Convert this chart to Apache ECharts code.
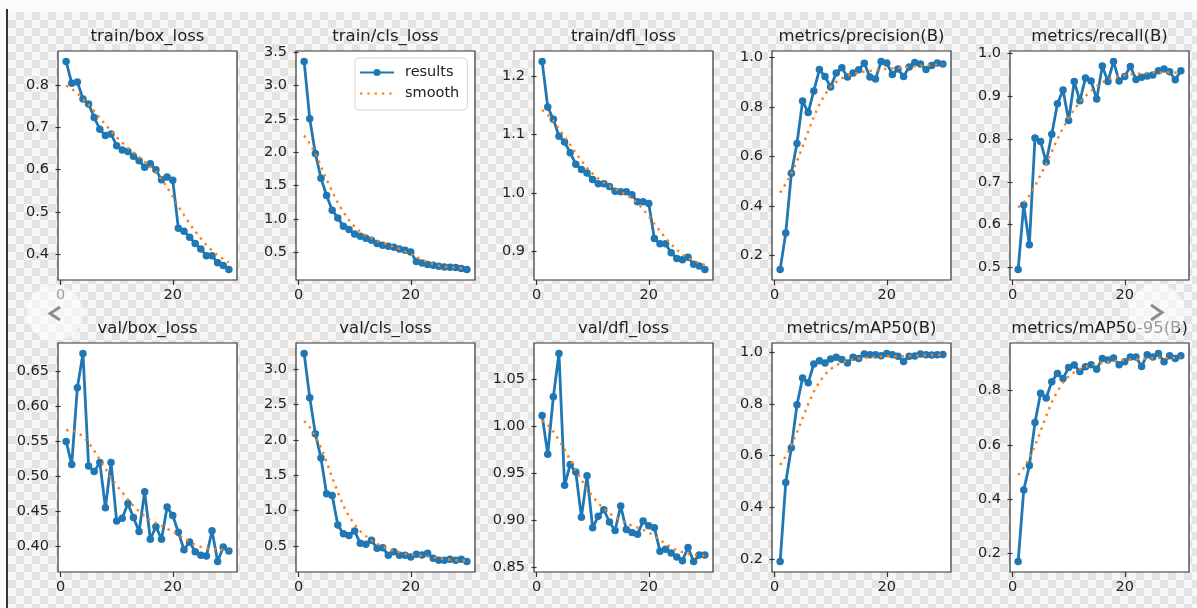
<!DOCTYPE html>
<html>
<head>
<meta charset="utf-8">
<script src="https://cdn.jsdelivr.net/npm/echarts@6/dist/echarts.min.js"></script>
<style>
  html, body { margin: 0; padding: 0; width: 1197px; height: 608px; overflow: hidden; background: #fbfbfb; }
  #checker {
    position: absolute; left: 8px; top: 12px; width: 1189px; height: 596px;
    background-color: #f7f7f7;
    background-image:
      linear-gradient(45deg, #e4e4e4 25%, transparent 25%, transparent 75%, #e4e4e4 75%),
      linear-gradient(45deg, #e4e4e4 25%, transparent 25%, transparent 75%, #e4e4e4 75%);
    background-size: 16px 16px;
    background-position: 0 0, 8px 8px;
  }
  #edge { position: absolute; left: 6px; top: 9px; width: 2px; height: 599px; background: #333; }
  #main { position: absolute; left: 0; top: 0; width: 1197px; height: 608px; }
</style>
</head>
<body>
<div id="checker"></div>
<div id="edge"></div>
<div id="main"></div>
<script>
// epochs on the x axis
const epochs = [1,2,3,4,5,6,7,8,9,10,11,12,13,14,15,16,17,18,19,20,21,22,23,24,25,26,27,28,29,30];
const xTicks = [0, 20];

// train/box_loss
const trainBoxLoss = [0.857,0.805,0.808,0.768,0.756,0.724,0.696,0.681,0.685,0.657,0.647,0.643,0.632,0.621,0.606,0.614,0.600,0.576,0.583,0.575,0.461,0.454,0.440,0.425,0.412,0.396,0.396,0.379,0.373,0.363];
const trainBoxSmooth = [0.800,0.792,0.781,0.768,0.754,0.739,0.723,0.707,0.692,0.677,0.664,0.652,0.641,0.630,0.619,0.607,0.594,0.578,0.558,0.536,0.513,0.492,0.472,0.454,0.437,0.421,0.408,0.397,0.388,0.380];
const trainBoxTicks = ['0.4','0.5','0.6','0.7','0.8'];

// train/cls_loss
const trainClsLoss = [3.36,2.50,1.98,1.61,1.35,1.13,1.015,0.89,0.84,0.775,0.74,0.71,0.68,0.63,0.606,0.59,0.576,0.55,0.53,0.505,0.36,0.34,0.316,0.306,0.29,0.28,0.275,0.27,0.256,0.24];
const trainClsSmooth = [2.25,2.13,1.98,1.79,1.59,1.41,1.24,1.10,0.98,0.88,0.81,0.75,0.71,0.67,0.64,0.61,0.58,0.55,0.51,0.47,0.43,0.39,0.35,0.32,0.30,0.285,0.275,0.265,0.26,0.255];
const trainClsTicks = ['0.5','1.0','1.5','2.0','2.5','3.0','3.5'];

// train/dfl_loss
const trainDflLoss = [1.225,1.147,1.126,1.097,1.087,1.069,1.049,1.040,1.034,1.023,1.016,1.016,1.011,1.003,1.002,1.002,0.997,0.985,0.985,0.982,0.922,0.913,0.913,0.898,0.888,0.886,0.890,0.878,0.875,0.869];
const trainDflSmooth = [1.142,1.134,1.123,1.110,1.096,1.082,1.068,1.055,1.043,1.033,1.025,1.018,1.012,1.007,1.002,0.997,0.991,0.983,0.972,0.960,0.947,0.935,0.923,0.912,0.903,0.895,0.889,0.884,0.880,0.877];
const trainDflTicks = ['0.9','1.0','1.1','1.2'];

// metrics/precision(B)
const precision = [0.144,0.291,0.532,0.652,0.823,0.777,0.864,0.950,0.922,0.880,0.936,0.957,0.920,0.936,0.949,0.976,0.920,0.912,0.983,0.977,0.930,0.952,0.922,0.960,0.979,0.973,0.950,0.967,0.977,0.973];
const precisionSmooth = [0.454,0.490,0.530,0.580,0.640,0.700,0.760,0.810,0.850,0.880,0.900,0.915,0.925,0.933,0.938,0.942,0.945,0.948,0.951,0.953,0.955,0.956,0.958,0.960,0.963,0.965,0.967,0.969,0.971,0.972];
const precisionTicks = ['0.2','0.4','0.6','0.8','1.0'];

// metrics/recall(B)
const recall = [0.495,0.646,0.553,0.802,0.794,0.746,0.811,0.882,0.914,0.843,0.934,0.889,0.942,0.935,0.893,0.970,0.934,0.981,0.935,0.946,0.969,0.939,0.944,0.947,0.949,0.959,0.963,0.957,0.938,0.959];
const recallSmooth = [0.640,0.652,0.668,0.690,0.716,0.742,0.770,0.800,0.826,0.849,0.869,0.886,0.900,0.912,0.923,0.932,0.939,0.944,0.947,0.949,0.951,0.952,0.953,0.954,0.955,0.955,0.955,0.955,0.955,0.955];
const recallTicks = ['0.5','0.6','0.7','0.8','0.9','1.0'];

// val/box_loss
const valBoxLoss = [0.550,0.517,0.627,0.676,0.515,0.507,0.520,0.455,0.520,0.436,0.440,0.461,0.441,0.421,0.478,0.410,0.428,0.410,0.456,0.444,0.420,0.395,0.406,0.392,0.387,0.386,0.422,0.378,0.399,0.393];
const valBoxSmooth = [0.566,0.566,0.563,0.557,0.548,0.537,0.524,0.511,0.498,0.487,0.477,0.467,0.458,0.450,0.443,0.437,0.433,0.429,0.425,0.421,0.416,0.411,0.406,0.402,0.399,0.397,0.396,0.395,0.395,0.395];
const valBoxTicks = ['0.40','0.45','0.50','0.55','0.60','0.65'];

// val/cls_loss
const valClsLoss = [3.226,2.60,2.09,1.745,1.238,1.214,0.796,0.674,0.650,0.711,0.538,0.524,0.580,0.467,0.476,0.368,0.420,0.368,0.368,0.345,0.383,0.373,0.397,0.326,0.298,0.298,0.312,0.298,0.312,0.279];
const valClsSmooth = [2.27,2.18,2.06,1.89,1.69,1.47,1.26,1.07,0.92,0.80,0.71,0.64,0.58,0.53,0.49,0.46,0.43,0.41,0.39,0.38,0.37,0.36,0.35,0.34,0.325,0.315,0.305,0.30,0.295,0.29];
const valClsTicks = ['0.5','1.0','1.5','2.0','2.5','3.0'];

// val/dfl_loss
const valDflLoss = [1.011,0.970,1.031,1.077,0.937,0.959,0.951,0.903,0.947,0.892,0.904,0.911,0.898,0.889,0.915,0.890,0.887,0.885,0.899,0.894,0.892,0.867,0.869,0.865,0.861,0.857,0.871,0.856,0.863,0.863];
const valDflSmooth = [1.006,1.001,0.994,0.985,0.975,0.964,0.953,0.943,0.933,0.925,0.918,0.912,0.907,0.903,0.900,0.897,0.894,0.892,0.890,0.887,0.883,0.879,0.875,0.871,0.868,0.866,0.864,0.863,0.863,0.862];
const valDflTicks = ['0.85','0.90','0.95','1.00','1.05'];

// metrics/mAP50(B)
const mAP50 = [0.190,0.496,0.631,0.797,0.901,0.882,0.955,0.968,0.959,0.974,0.981,0.972,0.959,0.981,0.976,0.994,0.991,0.991,0.987,0.996,0.991,0.985,0.965,0.985,0.986,0.994,0.991,0.990,0.991,0.992];
const mAP50Smooth = [0.564,0.598,0.640,0.690,0.745,0.800,0.848,0.886,0.915,0.935,0.950,0.960,0.967,0.972,0.976,0.979,0.981,0.983,0.984,0.985,0.985,0.985,0.985,0.986,0.987,0.988,0.989,0.990,0.990,0.991];
const mAP50Ticks = ['0.2','0.4','0.6','0.8','1.0'];

// metrics/mAP50-95(B)
const mAP5095 = [0.170,0.434,0.524,0.682,0.790,0.773,0.833,0.863,0.845,0.885,0.894,0.870,0.888,0.895,0.879,0.918,0.913,0.920,0.895,0.906,0.924,0.924,0.889,0.932,0.924,0.937,0.906,0.928,0.918,0.928];
const mAP5095Smooth = [0.489,0.515,0.550,0.596,0.650,0.706,0.757,0.798,0.830,0.853,0.868,0.879,0.887,0.893,0.898,0.903,0.906,0.909,0.911,0.913,0.915,0.916,0.917,0.918,0.919,0.920,0.920,0.921,0.921,0.922];
const mAP5095Ticks = ['0.2','0.4','0.6','0.8'];

const panels = [
  { title: 'train/box_loss', res: trainBoxLoss, sm: trainBoxSmooth, ticks: trainBoxTicks },
  { title: 'train/cls_loss', res: trainClsLoss, sm: trainClsSmooth, ticks: trainClsTicks },
  { title: 'train/dfl_loss', res: trainDflLoss, sm: trainDflSmooth, ticks: trainDflTicks },
  { title: 'metrics/precision(B)', res: precision, sm: precisionSmooth, ticks: precisionTicks },
  { title: 'metrics/recall(B)', res: recall, sm: recallSmooth, ticks: recallTicks },
  { title: 'val/box_loss', res: valBoxLoss, sm: valBoxSmooth, ticks: valBoxTicks },
  { title: 'val/cls_loss', res: valClsLoss, sm: valClsSmooth, ticks: valClsTicks },
  { title: 'val/dfl_loss', res: valDflLoss, sm: valDflSmooth, ticks: valDflTicks },
  { title: 'metrics/mAP50(B)', res: mAP50, sm: mAP50Smooth, ticks: mAP50Ticks },
  { title: 'metrics/mAP50-95(B)', res: mAP5095, sm: mAP5095Smooth, ticks: mAP5095Ticks }
];

// 2 x 5 panel layout
const colLeft = [58, 296, 534, 772, 1010];
const rowTop = [51, 343];
const cellW = 179, cellH = 229;
const FONT = 'DejaVu Sans';
const BLUE = '#1f77b4', ORANGE = '#ff7f0e', INK = '#333333';

const grids = [], xAxes = [], yAxes = [], series = [], graphics = [];

panels.forEach((p, i) => {
  const left = colLeft[i % 5], top = rowTop[Math.floor(i / 5)];
  grids.push({ left, top, width: cellW, height: cellH, show: true,
    backgroundColor: '#ffffff', borderColor: INK, borderWidth: 1.2 });

  // matplotlib-style 5% margins around the data
  const xPad = (epochs[epochs.length - 1] - epochs[0]) * 0.05;
  xAxes.push({ type: 'value', gridIndex: i,
    min: epochs[0] - xPad, max: epochs[epochs.length - 1] + xPad,
    axisLine: { show: false }, splitLine: { show: false },
    axisTick: { show: true, length: 5, lineStyle: { color: INK, width: 1.2 }, customValues: xTicks },
    axisLabel: { customValues: xTicks, margin: 8, fontFamily: FONT, fontSize: 14.5, color: '#222' } });

  const all = p.res.concat(p.sm);
  const lo = Math.min(...all), hi = Math.max(...all), pad = (hi - lo) * 0.05;
  const tickVals = p.ticks.map(Number);
  yAxes.push({ type: 'value', gridIndex: i, min: lo - pad, max: hi + pad,
    axisLine: { show: false }, splitLine: { show: false },
    axisTick: { show: true, length: 5, lineStyle: { color: INK, width: 1.2 }, customValues: tickVals },
    axisLabel: { customValues: tickVals, margin: 9, fontFamily: FONT, fontSize: 14.5, color: '#222',
      formatter: v => { const k = tickVals.findIndex(t => Math.abs(t - v) < 1e-9); return k >= 0 ? p.ticks[k] : ''; } } });

  series.push({ type: 'line', name: 'results', xAxisIndex: i, yAxisIndex: i,
    data: epochs.map((e, k) => [e, p.res[k]]),
    symbol: 'circle', symbolSize: 7.5, showSymbol: true,
    lineStyle: { color: BLUE, width: 2.8 }, itemStyle: { color: BLUE }, z: 3 });
  series.push({ type: 'line', name: 'smooth', xAxisIndex: i, yAxisIndex: i,
    data: epochs.map((e, k) => [e, p.sm[k]]),
    symbol: 'none', showSymbol: false,
    lineStyle: { color: ORANGE, width: 2.4, type: [2.4, 4.9] }, itemStyle: { color: ORANGE }, z: 4 });

  graphics.push({ type: 'text', x: left + cellW / 2, y: top - 14, z: 10,
    style: { text: p.title, fontFamily: FONT, fontSize: 16.5, fill: '#222', align: 'center', verticalAlign: 'middle' } });
});

// viewer navigation overlays
graphics.push({ type: 'circle', shape: { cx: 55, cy: 313, r: 28 }, z: 100, style: { fill: 'rgba(255,255,255,0.55)' } });
graphics.push({ type: 'polyline', shape: { points: [[60, 307], [50, 313.5], [60, 320]] }, z: 101, style: { stroke: '#8c8c8c', lineWidth: 3, fill: null } });
graphics.push({ type: 'circle', shape: { cx: 1157, cy: 312, r: 28 }, z: 100, style: { fill: 'rgba(255,255,255,0.55)' } });
graphics.push({ type: 'polyline', shape: { points: [[1151, 305], [1162, 312.5], [1151, 320]] }, z: 101, style: { stroke: '#8c8c8c', lineWidth: 3, fill: null } });

const chart = echarts.init(document.getElementById('main'), null, { renderer: 'canvas' });
chart.setOption({
  animation: false,
  backgroundColor: 'transparent',
  grid: grids,
  xAxis: xAxes,
  yAxis: yAxes,
  series: series,
  legend: {
    data: [
      { name: 'results' },
      { name: 'smooth', itemStyle: { opacity: 0 } }
    ],
    orient: 'vertical', left: 355, top: 58,
    itemWidth: 34, itemHeight: 9, itemGap: 6, padding: [7, 8, 9, 4],
    backgroundColor: 'rgba(255,255,255,0.85)', borderColor: '#d4d4d4', borderWidth: 1, borderRadius: 4,
    textStyle: { fontFamily: FONT, fontSize: 14.5, color: '#222', padding: [0, 0, 0, 6] },
    selectedMode: false
  },
  graphic: graphics
});
</script>
</body>
</html>
